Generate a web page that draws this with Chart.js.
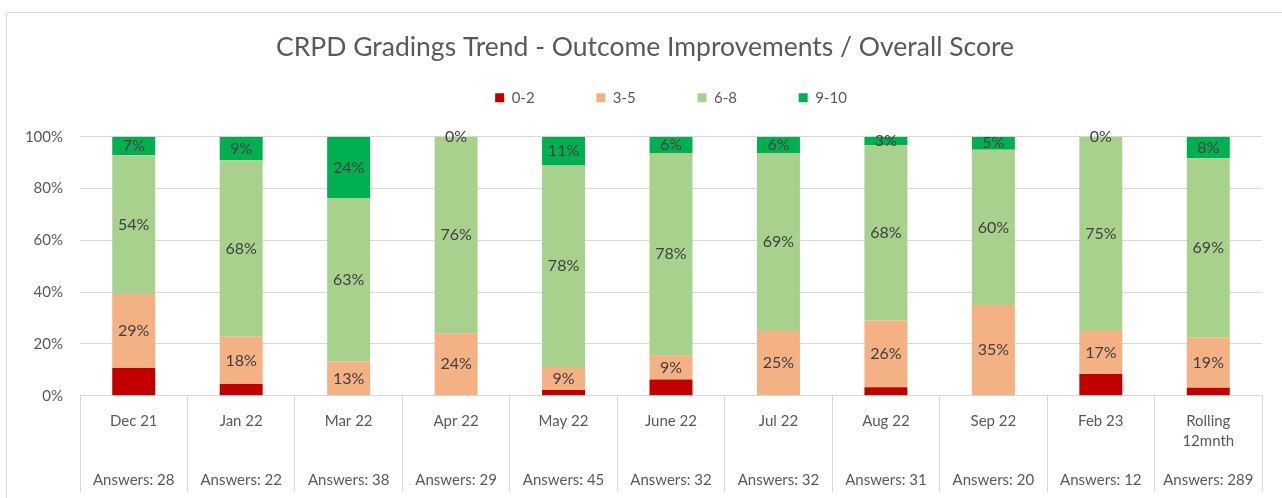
<!DOCTYPE html>
<html>
<head>
<meta charset="utf-8">
<script src="https://cdn.jsdelivr.net/npm/chart.js@4"></script>
<style>
  html, body { margin: 0; padding: 0; background: #fff; overflow: hidden; }
  #frame { position: absolute; left: 6px; top: 12px; width: 1290px; height: 500px; border: 1px solid #d9d9d9; }
  #wrap { position: relative; width: 1276px; height: 485px; }
</style>
</head>
<body>
<div id="frame"><div id="wrap"><canvas id="grades"></canvas></div></div>
<script>
// categories (multi-line names) and number of answers per column
var months = [['Dec 21'], ['Jan 22'], ['Mar 22'], ['Apr 22'], ['May 22'], ['June 22'],
  ['Jul 22'], ['Aug 22'], ['Sep 22'], ['Feb 23'], ['Rolling', '12mnth']];
var answers = [28, 22, 38, 29, 45, 32, 32, 31, 20, 12, 289];

// answer counts per score band
var band02 = [3, 1, 0, 0, 1, 2, 0, 1, 0, 1, 9];
var band35 = [8, 4, 5, 7, 4, 3, 8, 8, 7, 2, 56];
var band68 = [15, 15, 24, 22, 35, 25, 22, 21, 12, 9, 200];
var band910 = [2, 2, 9, 0, 5, 2, 2, 1, 1, 0, 24];

var yTicks = [0, 20, 40, 60, 80, 100];

var font = 'Lato';
var grey = '#d9d9d9';

function pct(counts) {
  return counts.map(function (c, i) { return c / answers[i] * 100; });
}

// month name on top, answers line at the bottom of each category cell
var labels = months.map(function (m, i) {
  var lines = m.slice();
  while (lines.length < 3) lines.push('');
  lines.push('Answers: ' + answers[i]);
  return lines;
});

// percentage written in the middle of each segment
var segmentLabels = {
  id: 'segmentLabels',
  afterDatasetsDraw: function (chart) {
    var ctx = chart.ctx;
    ctx.save();
    ctx.font = '16px ' + font;
    ctx.fillStyle = '#404040';
    ctx.textAlign = 'center';
    ctx.textBaseline = 'middle';
    chart.data.datasets.forEach(function (ds, i) {
      if (!ds.showValues) return;
      chart.getDatasetMeta(i).data.forEach(function (bar, j) {
        ctx.fillText(Math.round(ds.data[j]) + '%', bar.x, (bar.y + bar.base) / 2);
      });
    });
    ctx.restore();
  }
};

new Chart(document.getElementById('grades'), {
  type: 'bar',
  data: {
    labels: labels,
    datasets: [
      { label: '0-2', data: pct(band02), backgroundColor: '#c00000', showValues: false },
      { label: '3-5', data: pct(band35), backgroundColor: '#f4b183', showValues: true },
      { label: '6-8', data: pct(band68), backgroundColor: '#a9d18e', showValues: true },
      { label: '9-10', data: pct(band910), backgroundColor: '#00b050', showValues: true }
    ]
  },
  options: {
    responsive: true,
    maintainAspectRatio: false,
    animation: false,
    barPercentage: 0.4,
    categoryPercentage: 1,
    layout: { padding: 0 },
    plugins: {
      title: {
        display: true,
        text: 'CRPD Gradings Trend - Outcome Improvements / Overall Score',
        color: '#595959',
        font: { family: font, size: 26.5, weight: 'normal' },
        padding: { top: 18.1, bottom: -34.4 }
      },
      legend: {
        display: true,
        fullSize: false,
        labels: {
          color: '#595959',
          font: { family: font, size: 15 },
          boxWidth: 9,
          boxHeight: 9,
          padding: 61.7
        }
      },
      // empty subtitle used as a gap between the legend and the plot
      subtitle: {
        display: true,
        text: '',
        weight: 900,
        fullSize: false,
        font: { size: 10, lineHeight: 1 },
        padding: { top: 11.5, bottom: 0 }
      },
      tooltip: { enabled: false }
    },
    scales: {
      x: {
        stacked: true,
        grid: { drawOnChartArea: false, color: grey, tickColor: grey, tickLength: 96 },
        border: { color: grey },
        ticks: {
          color: '#595959',
          font: { family: font, size: 15, lineHeight: 1.3 },
          padding: -80,
          maxRotation: 0,
          autoSkip: false
        },
        afterFit: function (scale) { scale.height = 102.3; scale.paddingRight = 21; }
      },
      y: {
        stacked: true,
        min: 0,
        max: 100,
        afterBuildTicks: function (scale) {
          scale.ticks = yTicks.map(function (v) { return { value: v }; });
        },
        grid: { color: grey, drawTicks: false },
        border: { display: false },
        ticks: {
          color: '#595959',
          font: { family: font, size: 15 },
          padding: 17,
          callback: function (v) { return v + '%'; }
        },
        afterFit: function (scale) { scale.width = 73; }
      }
    }
  },
  plugins: [segmentLabels]
});
</script>
</body>
</html>
